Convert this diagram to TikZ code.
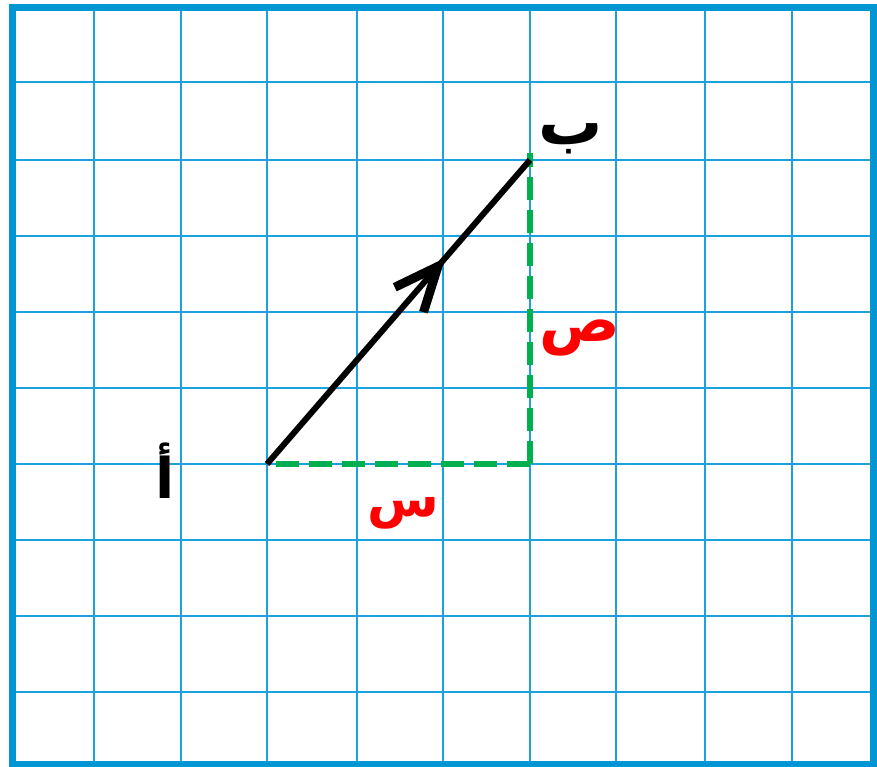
\documentclass[tikz,border=0pt]{standalone}
\usepackage{fontspec}
\newfontfamily\arabicfont[Script=Arabic]{DejaVu Sans}
\TeXXeTstate=1
\usetikzlibrary{decorations.markings}
\definecolor{gridblue}{HTML}{1BA1DD}
\definecolor{borderblue}{HTML}{0096D3}
\definecolor{dashgreen}{HTML}{00B050}
\begin{document}
\begin{tikzpicture}[x=1pt,y=-1pt,
  gridline/.style={draw=gridblue,line width=2.6pt},
  frame/.style={draw=borderblue,line width=7pt},
  vec/.style={draw=black,line width=6pt},
  comp/.style={draw=dashgreen,line width=6pt,dash pattern=on 23pt off 10pt},
  lbl/.style={font=\arabicfont\bfseries\fontsize{60}{60}\selectfont,inner sep=0pt},
  redlbl/.style={lbl,text=red}]
\useasboundingbox (0,0) rectangle (877,767);
\fill[white] (0,0) rectangle (877,767);
\foreach \x in {94,181,267,357,443,530,616,705,792}
  \draw[gridline] (\x,8) -- (\x,764);
\foreach \y in {82,160,236,312,388,464,540,616,692}
  \draw[gridline] (12,\y) -- (875,\y);
\draw[frame] (12,8) rectangle (873,764);
\coordinate (A) at (267,464);
\coordinate (B) at (530,160);
\coordinate (C) at (530,464);
\draw[comp] ([xshift=9pt]A) -- (C);
\draw[comp] (C) -- ([yshift=7pt]B);
\draw[vec,line cap=butt,postaction={decorate},
  decoration={markings,mark=at position 0.65 with {\draw[line width=9pt,miter limit=10] (-44pt,19pt) -- (0,0) -- (-44pt,-19pt);}}]
  (A) -- (B);
\node[lbl,font=\arabicfont\bfseries\fontsize{56}{56}\selectfont] (la) at (165,471) {\beginR أ\endR};
\node[lbl,font=\arabicfont\bfseries\fontsize{64}{64}\selectfont] (lb) at (571,139) {\beginR ب\endR};
\node[redlbl,font=\arabicfont\bfseries\fontsize{60}{60}\selectfont] (ly) at (580,338) {\beginR ص\endR};
\node[redlbl,font=\arabicfont\bfseries\fontsize{52}{52}\selectfont] (lx) at (403,513) {\beginR س\endR};
\end{tikzpicture}
\end{document}
